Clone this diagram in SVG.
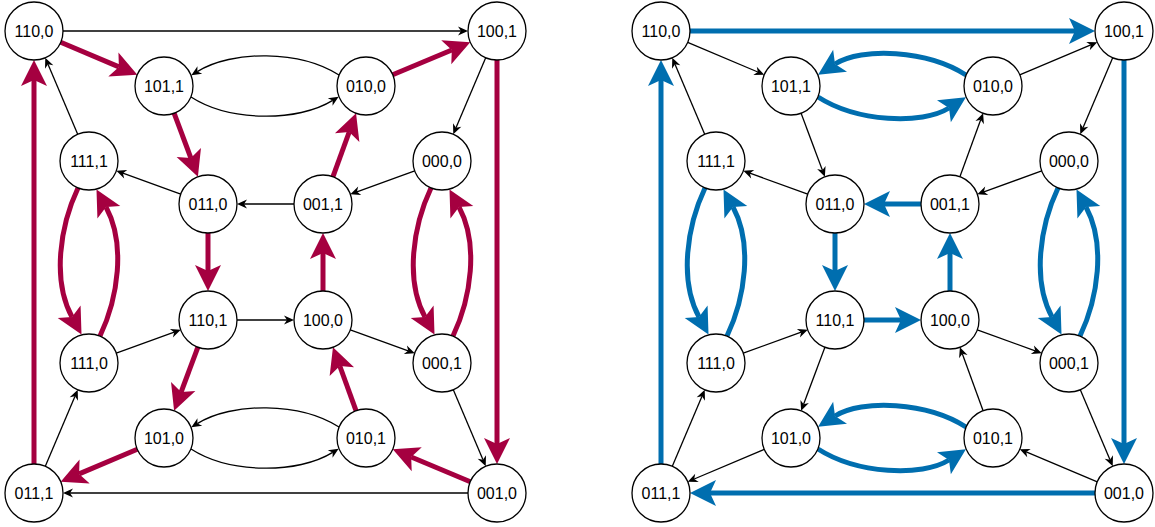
<svg xmlns="http://www.w3.org/2000/svg" width="1155" height="527" viewBox="0 0 1155 527">
<style>
.n circle{fill:#fff;stroke:#000;stroke-width:1.3}
.n text{font-family:"Liberation Sans",Arial,sans-serif;font-size:16px;text-anchor:middle;fill:#000}
.t{fill:none;stroke:#000;stroke-width:1.3;marker-end:url(#aT)}
.r{fill:none;stroke:#A50040;stroke-width:5;marker-end:url(#aR)}
.b{fill:none;stroke:#006EAF;stroke-width:5;marker-end:url(#aB)}
</style>
<defs>
<marker id="aT" markerUnits="userSpaceOnUse" markerWidth="20" markerHeight="20" refX="0" refY="0" orient="auto" overflow="visible"><path d="M7,0 L-3,-4.5 L0,0 L-3,4.5 Z" fill="#000"/></marker>
<marker id="aR" markerUnits="userSpaceOnUse" markerWidth="40" markerHeight="40" refX="0" refY="0" orient="auto" overflow="visible"><path d="M20,0 L-6,-13 L0,0 L-6,13 Z" fill="#A50040"/></marker>
<marker id="aB" markerUnits="userSpaceOnUse" markerWidth="40" markerHeight="40" refX="0" refY="0" orient="auto" overflow="visible"><path d="M20,0 L-6,-13 L0,0 L-6,13 Z" fill="#006EAF"/></marker>
</defs>

<g id="connectors-left">
<path class="t" d="M63,31 L461,31"/>
<path class="r" d="M60.7,42.3 L118.9,66.9"/>
<path class="r" d="M392.7,74.8 L451.8,50"/>
<path class="r" d="M497,60 L497,444"/>
<path class="r" d="M34,464 L34,80"/>
<path class="t" d="M468,493 L70,493"/>
<path class="t" d="M485.7,57.7 L456,127.8"/>
<path class="t" d="M414.7,170.9 L356.9,191.8"/>
<path class="t" d="M294,204 L244,204"/>
<path class="t" d="M180.7,194.1 L122.9,173.2"/>
<path class="t" d="M77.7,134.3 L48,64.2"/>
<path class="r" d="M174.1,113.2 L190.9,158.1"/>
<path class="r" d="M332.9,176.8 L349.2,132"/>
<path class="r" d="M208,233 L208,271"/>
<path class="t" d="M237,320 L287,320"/>
<path class="r" d="M323,291 L323,253"/>
<path class="t" d="M45.3,466.3 L75,396.2"/>
<path class="t" d="M116.3,353.1 L174.2,332.2"/>
<path class="r" d="M197.9,347.2 L181.1,392.1"/>
<path class="r" d="M137.3,449.3 L79.1,473.9"/>
<path class="r" d="M470.3,481.8 L411.2,457"/>
<path class="r" d="M356.1,410.8 L339.8,366"/>
<path class="t" d="M350.3,329.9 L408.2,350.8"/>
<path class="t" d="M453.3,389.7 L483,459.8"/>
<path class="t" d="M339,75 C300,50 232,50 197.3,71.6"/>
<path class="t" d="M191,97 C230,122 298,122 332.7,100.4"/>
<path class="t" d="M339,427 C300,402 232,402 197.3,423.6"/>
<path class="t" d="M191,449 C230,474 298,474 332.7,452.4"/>
<path class="r" d="M78,188 C60,226 52,280 72,317"/>
<path class="r" d="M100,336 C118,298 126,244 106,207"/>
<path class="r" d="M431,188 C413,226 405,280 425,317"/>
<path class="r" d="M453,336 C471,298 479,244 459,207"/>
</g>

<g id="connectors-right" transform="translate(627,0)">
<path class="b" d="M63,31 L448,31"/>
<path class="t" d="M60.7,42.3 L130.8,72"/>
<path class="t" d="M392.7,74.8 L463.8,44.9"/>
<path class="b" d="M497,60 L497,444"/>
<path class="b" d="M34,464 L34,80"/>
<path class="b" d="M468,493 L83,493"/>
<path class="t" d="M485.7,57.7 L456,127.8"/>
<path class="t" d="M414.7,170.9 L356.9,191.8"/>
<path class="b" d="M294,204 L257,204"/>
<path class="t" d="M180.7,194.1 L122.9,173.2"/>
<path class="t" d="M77.7,134.3 L48,64.2"/>
<path class="t" d="M174.1,113.2 L195.4,170.3"/>
<path class="t" d="M332.9,176.8 L353.7,119.8"/>
<path class="b" d="M208,233 L208,271"/>
<path class="b" d="M237,320 L274,320"/>
<path class="b" d="M323,291 L323,253"/>
<path class="t" d="M45.3,466.3 L75,396.2"/>
<path class="t" d="M116.3,353.1 L174.2,332.2"/>
<path class="t" d="M197.9,347.2 L176.6,404.3"/>
<path class="t" d="M137.3,449.3 L67.2,479"/>
<path class="t" d="M470.3,481.8 L399.2,451.9"/>
<path class="t" d="M356.1,410.8 L335.3,353.8"/>
<path class="t" d="M350.3,329.9 L408.2,350.8"/>
<path class="t" d="M453.3,389.7 L483,459.8"/>
<path class="b" d="M339,75 C300,50 235,47 208,64"/>
<path class="b" d="M191,97 C230,122 295,125 322,108"/>
<path class="b" d="M339,427 C300,402 235,399 208,416"/>
<path class="b" d="M191,449 C230,474 295,477 322,460"/>
<path class="b" d="M78,188 C60,226 52,280 72,317"/>
<path class="b" d="M100,336 C118,298 126,244 106,207"/>
<path class="b" d="M431,188 C413,226 405,280 425,317"/>
<path class="b" d="M453,336 C471,298 479,244 459,207"/>
</g>

<g id="nodes-left">
<g id="L-110-0" class="n"><circle cx="34" cy="31" r="29"/><text x="34" y="37">110,0</text></g>
<g id="L-100-1" class="n"><circle cx="497" cy="31" r="29"/><text x="497" y="37">100,1</text></g>
<g id="L-101-1" class="n"><circle cx="164" cy="86" r="29"/><text x="164" y="92">101,1</text></g>
<g id="L-010-0" class="n"><circle cx="366" cy="86" r="29"/><text x="366" y="92">010,0</text></g>
<g id="L-111-1" class="n"><circle cx="89" cy="161" r="29"/><text x="89" y="167">111,1</text></g>
<g id="L-000-0" class="n"><circle cx="442" cy="161" r="29"/><text x="442" y="167">000,0</text></g>
<g id="L-011-0" class="n"><circle cx="208" cy="204" r="29"/><text x="208" y="210">011,0</text></g>
<g id="L-001-1" class="n"><circle cx="323" cy="204" r="29"/><text x="323" y="210">001,1</text></g>
<g id="L-110-1" class="n"><circle cx="208" cy="320" r="29"/><text x="208" y="326">110,1</text></g>
<g id="L-100-0" class="n"><circle cx="323" cy="320" r="29"/><text x="323" y="326">100,0</text></g>
<g id="L-111-0" class="n"><circle cx="89" cy="363" r="29"/><text x="89" y="369">111,0</text></g>
<g id="L-000-1" class="n"><circle cx="442" cy="363" r="29"/><text x="442" y="369">000,1</text></g>
<g id="L-101-0" class="n"><circle cx="164" cy="438" r="29"/><text x="164" y="444">101,0</text></g>
<g id="L-010-1" class="n"><circle cx="366" cy="438" r="29"/><text x="366" y="444">010,1</text></g>
<g id="L-011-1" class="n"><circle cx="34" cy="493" r="29"/><text x="34" y="499">011,1</text></g>
<g id="L-001-0" class="n"><circle cx="497" cy="493" r="29"/><text x="497" y="499">001,0</text></g>
</g>

<g id="nodes-right" transform="translate(627,0)">
<g id="R-110-0" class="n"><circle cx="34" cy="31" r="29"/><text x="34" y="37">110,0</text></g>
<g id="R-100-1" class="n"><circle cx="497" cy="31" r="29"/><text x="497" y="37">100,1</text></g>
<g id="R-101-1" class="n"><circle cx="164" cy="86" r="29"/><text x="164" y="92">101,1</text></g>
<g id="R-010-0" class="n"><circle cx="366" cy="86" r="29"/><text x="366" y="92">010,0</text></g>
<g id="R-111-1" class="n"><circle cx="89" cy="161" r="29"/><text x="89" y="167">111,1</text></g>
<g id="R-000-0" class="n"><circle cx="442" cy="161" r="29"/><text x="442" y="167">000,0</text></g>
<g id="R-011-0" class="n"><circle cx="208" cy="204" r="29"/><text x="208" y="210">011,0</text></g>
<g id="R-001-1" class="n"><circle cx="323" cy="204" r="29"/><text x="323" y="210">001,1</text></g>
<g id="R-110-1" class="n"><circle cx="208" cy="320" r="29"/><text x="208" y="326">110,1</text></g>
<g id="R-100-0" class="n"><circle cx="323" cy="320" r="29"/><text x="323" y="326">100,0</text></g>
<g id="R-111-0" class="n"><circle cx="89" cy="363" r="29"/><text x="89" y="369">111,0</text></g>
<g id="R-000-1" class="n"><circle cx="442" cy="363" r="29"/><text x="442" y="369">000,1</text></g>
<g id="R-101-0" class="n"><circle cx="164" cy="438" r="29"/><text x="164" y="444">101,0</text></g>
<g id="R-010-1" class="n"><circle cx="366" cy="438" r="29"/><text x="366" y="444">010,1</text></g>
<g id="R-011-1" class="n"><circle cx="34" cy="493" r="29"/><text x="34" y="499">011,1</text></g>
<g id="R-001-0" class="n"><circle cx="497" cy="493" r="29"/><text x="497" y="499">001,0</text></g>
</g>
</svg>
